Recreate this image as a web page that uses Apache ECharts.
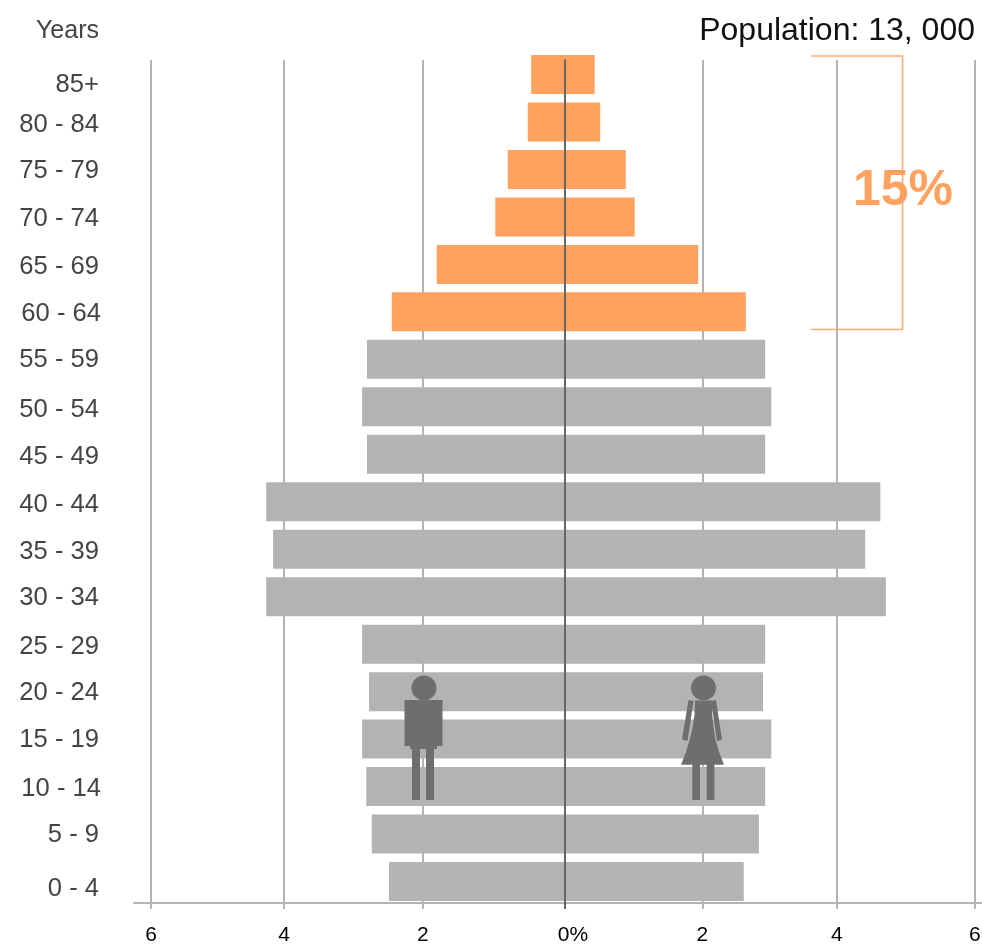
<!DOCTYPE html>
<html><head><meta charset="utf-8">
<style>html,body{margin:0;padding:0;background:#fff}#c{width:982px;height:950px}</style>
<script src="https://cdn.jsdelivr.net/npm/echarts@6/dist/echarts.min.js"></script>
</head><body><div id="c"></div>
<script>
const ageGroups = ['85+','80 - 84','75 - 79','70 - 74','65 - 69','60 - 64','55 - 59','50 - 54','45 - 49','40 - 44','35 - 39','30 - 34','25 - 29','20 - 24','15 - 19','10 - 14','5 - 9','0 - 4'];
const males   = [0.49,0.54,0.83,1.01,1.86,2.51,2.87,2.94,2.87,4.33,4.23,4.33,2.94,2.84,2.94,2.88,2.80,2.55];
const females = [0.43,0.51,0.88,1.01,1.93,2.62,2.90,2.99,2.90,4.57,4.35,4.65,2.90,2.87,2.99,2.90,2.81,2.59];
const elderlyCount = 6;
const gridTicks = [-6,-4.07,-2.06,0,1.99,3.94,5.94];
const totalLabel = 'Population: 13, 000';
const shareLabel = '15%';
const yearsLabel = 'Years';

const ORANGE='#FFA15F', GRAY='#B3B3B3', ICON='#6E6E6E', FONT='"Liberation Sans",Arial,sans-serif';
// hand-placed labels in the reference: vertical drop (px) of each label from its band centre
const labelDrop = [10,3,1,2,3,2,1,3,3,3,3,1,3,1,1,2.5,1,7];
const labelShiftRight = {'60 - 64':-2,'10 - 14':-2};
const xMin=-6.246, xMax=6.043;
const barColor = p => p.dataIndex < elderlyCount ? ORANGE : GRAY;
const bar = (name,vals,sign) => ({name,type:'bar',xAxisIndex:1,yAxisIndex:1,barWidth:39,barGap:'-100%',
  data:vals.map(v=>sign*v),itemStyle:{color:barColor},silent:true,animation:false});

const g = [];
const put = el => g.push(Object.assign({z:10},el));
// man
put({type:'circle',shape:{cx:424,cy:688,r:12.5},style:{fill:ICON}});
put({type:'rect',shape:{x:404.5,y:700,width:38,height:46},style:{fill:ICON}});
put({type:'rect',shape:{x:410,y:745,width:27,height:4},style:{fill:ICON}});
put({type:'rect',shape:{x:412,y:748,width:8,height:52},style:{fill:ICON}});
put({type:'rect',shape:{x:426,y:748,width:8,height:52},style:{fill:ICON}});
// woman
put({type:'circle',shape:{cx:703.5,cy:688,r:12.5},style:{fill:ICON}});
put({type:'polygon',shape:{points:[[688.5,700],[693.5,701],[687.5,741],[682,739.5]]},style:{fill:ICON}});
put({type:'polygon',shape:{points:[[716,700],[711,701],[717,741],[722,739.5]]},style:{fill:ICON}});
put({type:'polygon',shape:{points:[[695,700.5],[712,700.5],[712.3,715],[713.5,728],[715.5,740],[719,752],[724,764.7],[681,764.7],[686,752],[689.5,740],[692.5,728],[694.5,715]]},style:{fill:ICON}});
put({type:'rect',shape:{x:692.3,y:764,width:7.7,height:36},style:{fill:ICON}});
put({type:'rect',shape:{x:706.7,y:764,width:7.7,height:36},style:{fill:ICON}});
// bracket
put({type:'polyline',shape:{points:[[811,56],[902.5,56],[902.5,329.5],[811,329.5]]},style:{stroke:ORANGE,lineWidth:1.6,fill:'none',opacity:.9}});
// dark foot of the zero line below the axis
put({type:'line',shape:{x1:565,y1:903,x2:565,y2:909},style:{stroke:'#666',lineWidth:2}});
// texts
put({type:'text',x:975,y:31,style:{text:totalLabel,font:'32px '+FONT,fill:'#111',textAlign:'right',textVerticalAlign:'middle'}});
put({type:'text',x:903,y:191,style:{text:shareLabel,font:'bold 50px '+FONT,fill:ORANGE,textAlign:'center',textVerticalAlign:'middle'}});
put({type:'text',x:99,y:31,style:{text:yearsLabel,font:'25px '+FONT,fill:'#444',textAlign:'right',textVerticalAlign:'middle'}});

const option = {
  animation:false,
  backgroundColor:'#fff',
  grid:[
    {left:134,width:848,top:60,height:843,outerBoundsMode:'none'},
    {left:134,width:848,top:50.76,height:854.5,outerBoundsMode:'none'}
  ],
  xAxis:[
    {gridIndex:0,type:'value',min:xMin,max:xMax,position:'bottom',
     axisLine:{show:true,onZero:false,lineStyle:{color:GRAY,width:2}},
     axisTick:{show:true,length:6,customValues:gridTicks,lineStyle:{color:GRAY,width:2}},
     splitLine:{show:true,customValues:gridTicks,lineStyle:{color:GRAY,width:2}},
     axisLabel:{show:true,customValues:gridTicks,margin:22,fontFamily:FONT,fontSize:21,color:'#000',hideOverlap:false,
       formatter:v=>v===0?'{p|0%}':String(Math.round(Math.abs(v))),
       rich:{p:{fontFamily:FONT,fontSize:21,color:'#000',padding:[0,0,0,16]}}}},
    {gridIndex:1,type:'value',min:xMin,max:xMax,show:false,splitLine:{show:false}}
  ],
  yAxis:[
    {gridIndex:0,type:'value',min:0,max:1,z:5,
     axisLine:{show:true,onZero:true,lineStyle:{color:'#666',width:2}},
     axisTick:{show:false},axisLabel:{show:false},splitLine:{show:false}},
    {gridIndex:1,type:'category',inverse:true,
     data:ageGroups.map((a,i)=>({value:a,textStyle:{lineHeight:2*labelDrop[i],
       padding:labelShiftRight[a]?[0,labelShiftRight[a],0,0]:0}})),
     axisLine:{show:false,onZero:false},axisTick:{show:false},splitLine:{show:false},
     axisLabel:{interval:0,margin:35,fontFamily:FONT,fontSize:25.6,color:'#444',align:'right',formatter:v=>'\n'+v}}
  ],
  series:[bar('Male',males,-1),bar('Female',females,1)],
  graphic:g
};
echarts.init(document.getElementById('c'),null,{renderer:'canvas'}).setOption(option);
</script></body></html>
